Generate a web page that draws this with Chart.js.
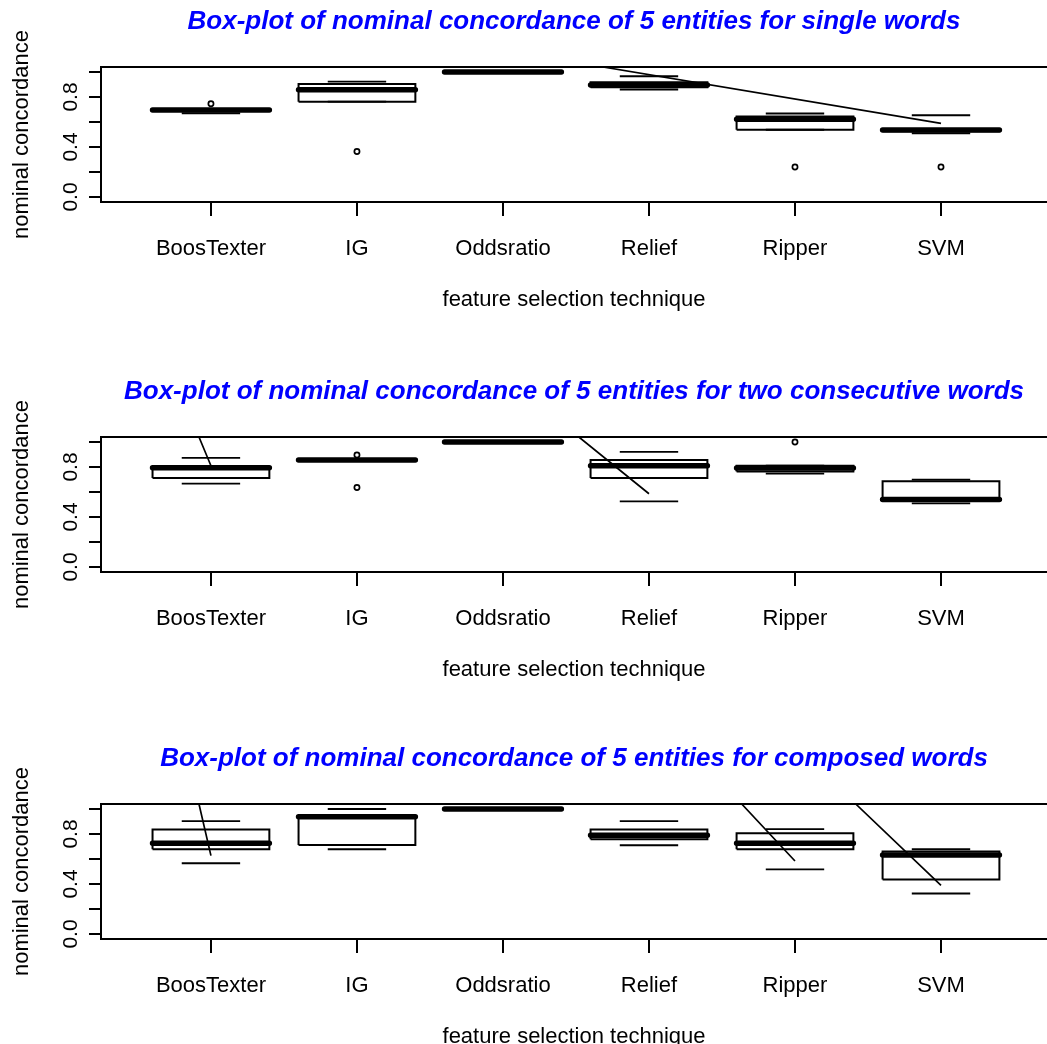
<!DOCTYPE html>
<html>
<head>
<meta charset="utf-8">
<title>Box-plots of nominal concordance</title>
<script src="https://cdn.jsdelivr.net/npm/chart.js@4.4.1/dist/chart.umd.min.js"></script>
<style>
  html, body { margin: 0; padding: 0; background: #fff; overflow: hidden; }
  body { width: 1047px; height: 1044px; position: relative; }
  .panel { position: absolute; left: 0; width: 1047px; height: 316px; }
  #p1 { top: 0px; }
  #p2 { top: 370px; }
  #p3 { top: 737px; }
</style>
</head>
<body>
<div class="panel" id="p1"><canvas id="c1" width="1047" height="316"></canvas></div>
<div class="panel" id="p2"><canvas id="c2" width="1047" height="316"></canvas></div>
<div class="panel" id="p3"><canvas id="c3" width="1047" height="316"></canvas></div>
<script>
const techniques = ["BoosTexter", "IG", "Oddsratio", "Relief", "Ripper", "SVM"];
const yTicks = [0, 0.2, 0.4, 0.6, 0.8, 1.0];
const yLabelled = [0, 0.4, 0.8];

// single words
const singleLower = [0.670, 0.763, 1.0, 0.860, 0.538, 0.510];
const singleQ1 = [0.690, 0.763, 1.0, 0.879, 0.538, 0.527];
const singleMedian = [0.696, 0.858, 1.0, 0.897, 0.623, 0.536];
const singleQ3 = [0.702, 0.905, 1.0, 0.918, 0.644, 0.545];
const singleUpper = [0.702, 0.923, 1.0, 0.966, 0.668, 0.654];
const singleOutX = [1, 2, 5, 6];
const singleOutY = [0.746, 0.364, 0.240, 0.240];
const singleSlashX = [3.685, 6];
const singleSlashY = [1.04, 0.589];

// two consecutive words
const twoLower = [0.667, 0.857, 1.0, 0.525, 0.747, 0.509];
const twoQ1 = [0.712, 0.853, 1.0, 0.712, 0.765, 0.541];
const twoMedian = [0.794, 0.857, 1.0, 0.810, 0.792, 0.541];
const twoQ3 = [0.800, 0.862, 1.0, 0.857, 0.810, 0.686];
const twoUpper = [0.873, 0.862, 1.0, 0.921, 0.810, 0.699];
const twoOutX = [2, 2, 5];
const twoOutY = [0.897, 0.636, 1.0];
const twoSlashX = [0.918, 1, 3.52, 4];
const twoSlashY = [1.04, 0.810, 1.04, 0.586];

// composed words
const composedLower = [0.566, 0.678, 1.0, 0.710, 0.517, 0.324];
const composedQ1 = [0.678, 0.713, 1.0, 0.759, 0.678, 0.437];
const composedMedian = [0.727, 0.938, 1.0, 0.791, 0.727, 0.633];
const composedQ3 = [0.836, 0.938, 1.0, 0.836, 0.807, 0.660];
const composedUpper = [0.903, 1.0, 1.0, 0.903, 0.839, 0.678];
const composedOutX = [];
const composedOutY = [];
const composedSlashX = [0.918, 1, 4.635, 5, 5.416, 6];
const composedSlashY = [1.04, 0.627, 1.04, 0.584, 1.04, 0.389];

const FONT = "'Liberation Sans', Arial, sans-serif";
const BOX_HALF = 0.4;
const CAP_HALF = 0.2;

// construit les datasets d'un boxplot a partir des quartis
function boxDatasets(lower, q1, median, q3, upper, outX, outY, slashX, slashY) {
  const boxes = [], caps = [], medians = [], slashes = [];
  q1.forEach((v, i) => {
    const x = i + 1;
    boxes.push({x: x - BOX_HALF, y: v}, {x: x + BOX_HALF, y: v}, {x: x + BOX_HALF, y: q3[i]},
      {x: x - BOX_HALF, y: q3[i]}, {x: x - BOX_HALF, y: v}, {x: x, y: null});
    caps.push({x: x - CAP_HALF, y: upper[i]}, {x: x + CAP_HALF, y: upper[i]}, {x: x, y: null},
      {x: x - CAP_HALF, y: lower[i]}, {x: x + CAP_HALF, y: lower[i]}, {x: x, y: null});
    medians.push({x: x - BOX_HALF, y: median[i]}, {x: x + BOX_HALF, y: median[i]}, {x: x, y: null});
  });
  for (let k = 0; k < slashX.length; k += 2) {
    slashes.push({x: slashX[k], y: slashY[k]}, {x: slashX[k + 1], y: slashY[k + 1]}, {x: slashX[k + 1], y: null});
  }
  const outliers = outX.map((x, i) => ({x: x, y: outY[i]}));
  const line = {showLine: true, pointRadius: 0, borderColor: "#000", spanGaps: false};
  return [
    {...line, data: slashes, borderWidth: 1.7},
    {data: outliers, showLine: false, pointStyle: "circle", pointRadius: 2.6,
      borderWidth: 1.7, borderColor: "#000", backgroundColor: "#fff"},
    {...line, data: medians, borderWidth: 5.5, borderCapStyle: "round"},
    {...line, data: caps, borderWidth: 1.8},
    {...line, data: boxes, borderWidth: 2},
  ];
}

function criarPainel(id, titulo, datasets) {
  const ctx = document.getElementById(id).getContext("2d");
  return new Chart(ctx, {
    type: "scatter",
    data: {datasets: datasets},
    options: {
      responsive: false,
      animation: false,
      layout: {padding: 0, autoPadding: false},
      plugins: {
        legend: {display: false},
        tooltip: {enabled: false},
        title: {
          display: true,
          text: titulo,
          color: "#0000ff",
          fullSize: false,
          font: {family: FONT, size: 26, style: "italic", weight: "bold"},
          padding: {top: 6.4, bottom: 29.4},
        },
      },
      scales: {
        x: {
          type: "linear",
          min: 0.247,
          max: 6.726,
          afterBuildTicks: (s) => { s.ticks = techniques.map((t, i) => ({value: i + 1})); },
          afterFit: (s) => { s.height = 114; },
          ticks: {
            autoSkip: false,
            maxRotation: 0,
            padding: 19.4,
            color: "#000",
            font: {family: FONT, size: 22},
            callback: (v) => techniques[v - 1],
          },
          grid: {drawOnChartArea: false, tickLength: 14, color: "#000", lineWidth: 2},
          border: {color: "#000", width: 2},
          title: {
            display: true,
            text: "feature selection technique",
            color: "#000",
            font: {family: FONT, size: 22},
            padding: {top: 0, bottom: 3.3},
          },
        },
        xTop: {
          type: "linear",
          position: "top",
          min: 0.247,
          max: 6.726,
          ticks: {display: false},
          grid: {display: false},
          border: {color: "#000", width: 2},
          afterFit: (s) => { s.height = 0; },
        },
        y: {
          min: -0.04,
          max: 1.04,
          afterBuildTicks: (s) => { s.ticks = yTicks.map((v) => ({value: v})); },
          afterFit: (s) => { s.width = 101; },
          ticks: {
            autoSkip: false,
            minRotation: 90,
            maxRotation: 90,
            crossAlign: "center",
            padding: 3.5,
            color: "#000",
            font: {family: FONT, size: 21},
            callback: (v) => (yLabelled.includes(v) ? v.toFixed(1) : ""),
          },
          grid: {drawOnChartArea: false, tickLength: 12, color: "#000", lineWidth: 2},
          border: {color: "#000", width: 2},
          title: {
            display: true,
            text: "nominal concordance",
            color: "#000",
            font: {family: FONT, size: 22},
            padding: {top: 8.8, bottom: 0},
          },
        },
      },
    },
  });
}

criarPainel("c1", "Box-plot of nominal concordance of 5 entities for single words",
  boxDatasets(singleLower, singleQ1, singleMedian, singleQ3, singleUpper, singleOutX, singleOutY, singleSlashX, singleSlashY));
criarPainel("c2", "Box-plot of nominal concordance of 5 entities for two consecutive words",
  boxDatasets(twoLower, twoQ1, twoMedian, twoQ3, twoUpper, twoOutX, twoOutY, twoSlashX, twoSlashY));
criarPainel("c3", "Box-plot of nominal concordance of 5 entities for composed words",
  boxDatasets(composedLower, composedQ1, composedMedian, composedQ3, composedUpper, composedOutX, composedOutY, composedSlashX, composedSlashY));
</script>
</body>
</html>
